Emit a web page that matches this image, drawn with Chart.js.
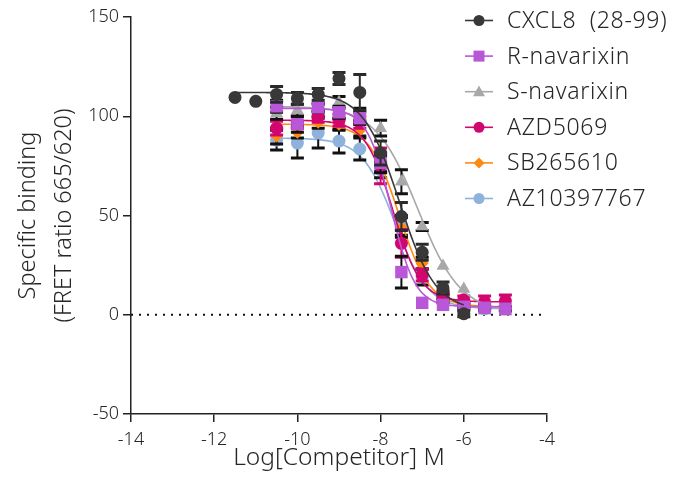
<!DOCTYPE html>
<html>
<head>
<meta charset="utf-8">
<script src="https://cdn.jsdelivr.net/npm/chart.js@4.4.1/dist/chart.umd.min.js"></script>
<style>
  html, body { margin: 0; padding: 0; background: #ffffff; }
  #wrap { width: 673px; height: 490px; }
</style>
</head>
<body>
<div id="wrap"><canvas id="c" width="673" height="490"></canvas></div>
<script>
// Competitor concentrations (log M)
const logConcCXCL8 = [-11.5, -11, -10.5, -10, -9.5, -9, -8.5, -8, -7.5, -7, -6.5, -6];
const logConc      = [-10.5, -10, -9.5, -9, -8.5, -8, -7.5, -7, -6.5, -6, -5.5, -5];

// Specific binding, mean and SEM per competitor
const cxcl8Mean = [109.5, 107.5, 111, 109, 111, 119, 112, 81.5, 49.5, 31.5, 13.5, 0.5];
const cxcl8Sem  = [0, 0, 4, 3, 3, 3, 9, 6, 7, 4, 3, 1.5];
const rNavMean  = [105, 96, 104.5, 102, 99, 76.5, 21.5, 6, 5, 4, 3.5, 3];
const rNavSem   = [3, 4, 2, 3, 3, 5, 8, 0, 0, 0, 0, 0];
const sNavMean  = [101.5, 103, 104, 107, 101, 94, 67, 44.5, 24.5, 13, 2, 1.5];
const sNavSem   = [3, 3, 2, 3, 3, 4, 6, 2, 0, 0, 0, 0];
const azd5069Mean = [94, 97, 100, 98, 97, 75, 36, 20, 9, 7.5, 6.5, 7];
const azd5069Sem  = [3.5, 3, 3, 3, 3, 9, 7, 3, 2, 2, 3, 3];
const sb265610Mean = [90, 92, 97, 96, 93, 76, 44, 26, 10, 5, 4, 3];
const sb265610Sem  = [4, 3, 3, 3, 3, 4, 5, 3, 2, 1, 1, 1];
const az10397767Mean = [88, 86.5, 91.5, 87.5, 83.5, 73, 45, 19, 8, 4, 3, 3];
const az10397767Sem  = [5, 7.5, 7.5, 6, 5.5, 4, 5, 4, 2, 1, 1, 1];

// Four-parameter logistic fits: [top, bottom, logIC50, hill]
const cxcl8Fit      = [112, 2, -7.55, 1.0];
const rNavFit       = [104, 4, -7.75, 1.5];
const sNavFit       = [105, 1, -7.1, 0.85];
const azd5069Fit    = [98, 6.5, -7.7, 1.3];
const sb265610Fit   = [96, 4, -7.55, 1.2];
const az10397767Fit = [89, 3, -7.65, 1.1];

// Axis ticks
const xTicks = [-14, -12, -10, -8, -6, -4];
const yTicks = [-50, 0, 50, 100, 150];

const seriesLabels = ['CXCL8  (28-99)', 'R-navarixin', 'S-navarixin', 'AZD5069', 'SB265610', 'AZ10397767'];

const FONT = '"Noto Sans", "Open Sans", "DejaVu Sans", sans-serif';
const TEXT = '#262626';

const series = [
  { label: seriesLabels[0], x: logConcCXCL8, mean: cxcl8Mean, sem: cxcl8Sem, fit: cxcl8Fit, color: '#383838', err: '#2a2a2a', style: 'circle', r: 6.5 },
  { label: seriesLabels[1], x: logConc, mean: rNavMean, sem: rNavSem, fit: rNavFit, color: '#b857d8', err: '#111111', style: 'rect', r: 8.8 },
  { label: seriesLabels[2], x: logConc, mean: sNavMean, sem: sNavSem, fit: sNavFit, color: '#a8a8a8', err: '#111111', style: 'triangle', r: 7.5 },
  { label: seriesLabels[3], x: logConc, mean: azd5069Mean, sem: azd5069Sem, fit: azd5069Fit, color: '#d1066f', err: '#d1066f', style: 'circle', r: 6.5 },
  { label: seriesLabels[4], x: logConc, mean: sb265610Mean, sem: sb265610Sem, fit: sb265610Fit, color: '#ff8a12', err: '#111111', style: 'rectRot', r: 6.5 },
  { label: seriesLabels[5], x: logConc, mean: az10397767Mean, sem: az10397767Sem, fit: az10397767Fit, color: '#8fb2dc', err: '#111111', style: 'circle', r: 6.5 }
];

function logistic(p, x) {
  const [top, bottom, logIC50, hill] = p;
  return bottom + (top - bottom) / (1 + Math.pow(10, (x - logIC50) * hill));
}

function fitLine(p, xs) {
  const x0 = xs[0], x1 = xs[xs.length - 1];
  const pts = [];
  const n = 120;
  for (let i = 0; i <= n; i++) {
    const x = x0 + (x1 - x0) * i / n;
    pts.push({ x: x, y: logistic(p, x) });
  }
  return pts;
}

const datasets = [];
series.forEach(s => {
  datasets.push({
    type: 'scatter',
    label: s.label,
    data: s.x.map((x, i) => ({ x: x, y: s.mean[i] })),
    sem: s.sem,
    errColor: s.err,
    showLine: false,
    pointStyle: s.style,
    pointRadius: s.r,
    pointHoverRadius: s.r,
    pointBackgroundColor: s.color,
    pointBorderColor: s.color,
    pointBorderWidth: 0,
    clip: false
  });
  datasets.push({
    type: 'line',
    label: s.label + ' fit',
    data: fitLine(s.fit, s.x),
    borderColor: s.color,
    borderWidth: 1.6,
    pointRadius: 0,
    fill: false,
    tension: 0
  });
});
// Dotted zero reference line
datasets.push({
  type: 'line',
  label: 'zero',
  data: [{ x: xTicks[0], y: 0 }, { x: xTicks[xTicks.length - 1], y: 0 }],
  borderColor: '#111111',
  borderWidth: 2,
  borderDash: [2, 6],
  pointRadius: 0,
  fill: false
});

// SEM error bars, drawn beneath each marker set
const errorBars = {
  id: 'errorBars',
  beforeDatasetDraw(chart, args) {
    const ds = chart.data.datasets[args.index];
    if (!ds.sem) return;
    const ctx = chart.ctx;
    const yScale = chart.scales.y;
    ctx.save();
    ctx.strokeStyle = ds.errColor;
    args.meta.data.forEach((pt, i) => {
      const e = ds.sem[i];
      if (!e) return;
      const v = ds.data[i].y;
      const yHi = yScale.getPixelForValue(v + e);
      const yLo = yScale.getPixelForValue(v - e);
      ctx.lineWidth = 2;
      ctx.beginPath();
      ctx.moveTo(pt.x, yHi);
      ctx.lineTo(pt.x, yLo);
      ctx.stroke();
      ctx.lineWidth = 3;
      ctx.beginPath();
      ctx.moveTo(pt.x - 6.5, yHi);
      ctx.lineTo(pt.x + 6.5, yHi);
      ctx.moveTo(pt.x - 6.5, yLo);
      ctx.lineTo(pt.x + 6.5, yLo);
      ctx.stroke();
    });
    ctx.restore();
  }
};

function drawMarker(ctx, style, x, y, r) {
  ctx.beginPath();
  if (style === 'circle') {
    ctx.arc(x, y, r, 0, Math.PI * 2);
  } else if (style === 'rect') {
    ctx.rect(x - r, y - r, 2 * r, 2 * r);
  } else if (style === 'triangle') {
    ctx.moveTo(x, y - r * 1.05);
    ctx.lineTo(x + r, y + r * 0.75);
    ctx.lineTo(x - r, y + r * 0.75);
    ctx.closePath();
  } else if (style === 'rectRot') {
    ctx.moveTo(x, y - r);
    ctx.lineTo(x + r, y);
    ctx.lineTo(x, y + r);
    ctx.lineTo(x - r, y);
    ctx.closePath();
  }
  ctx.fill();
}

// Legend to the right of the plot
const sideLegend = {
  id: 'sideLegend',
  afterDraw(chart) {
    const ctx = chart.ctx;
    ctx.save();
    const sizes = { circle: 5.5, rect: 5.5, triangle: 6, rectRot: 5.5 };
    series.forEach((s, i) => {
      const y = 20.5 + i * 35.6;
      ctx.strokeStyle = s.color;
      ctx.lineWidth = 1.6;
      ctx.beginPath();
      ctx.moveTo(465, y);
      ctx.lineTo(493, y);
      ctx.stroke();
      ctx.fillStyle = s.color;
      drawMarker(ctx, s.style, 479, y, sizes[s.style]);
      ctx.fillStyle = TEXT;
      ctx.font = '300 23px ' + FONT;
      if ('letterSpacing' in ctx) ctx.letterSpacing = '0.7px';
      ctx.textAlign = 'left';
      ctx.textBaseline = 'middle';
      ctx.fillText(s.label, 507, y + 1);
    });
    ctx.restore();
  }
};

Chart.defaults.font.family = FONT;

new Chart(document.getElementById('c'), {
  data: { datasets: datasets },
  plugins: [errorBars, sideLegend],
  options: {
    responsive: false,
    animation: false,
    devicePixelRatio: 1,
    layout: { padding: { left: 0, right: 126, top: 17, bottom: 0 } },
    plugins: { legend: { display: false }, tooltip: { enabled: false } },
    scales: {
      x: {
        type: 'linear',
        min: xTicks[0],
        max: xTicks[xTicks.length - 1],
        afterBuildTicks: s => { s.ticks = xTicks.map(v => ({ value: v })); },
        afterFit: s => { s.height = 76; },
        ticks: { color: TEXT, font: { size: 18, weight: '300' }, padding: 7, maxRotation: 0 },
        grid: { drawOnChartArea: false, drawTicks: true, tickLength: 8, tickColor: '#222', lineWidth: 1.5 },
        border: { display: true, color: '#222', width: 1.5 },
        title: { display: true, text: 'Log[Competitor] M', color: TEXT, font: { size: 24.5, weight: '300' }, padding: { top: 0, bottom: 17 } }
      },
      y: {
        type: 'linear',
        min: yTicks[0],
        max: yTicks[yTicks.length - 1],
        afterBuildTicks: s => { s.ticks = yTicks.map(v => ({ value: v })); },
        afterFit: s => { s.width = 131; },
        ticks: { color: TEXT, font: { size: 18, weight: '300' }, padding: 4 },
        grid: { drawOnChartArea: false, drawTicks: true, tickLength: 8, tickColor: '#222', lineWidth: 1.5 },
        border: { display: true, color: '#222', width: 1.5 },
        title: { display: true, text: ['Specific binding', '(FRET ratio 665/620)'], color: TEXT, font: { size: 23.5, weight: '300', lineHeight: '36px' }, padding: { top: 10, bottom: 0 } }
      }
    }
  }
});
</script>
</body>
</html>
